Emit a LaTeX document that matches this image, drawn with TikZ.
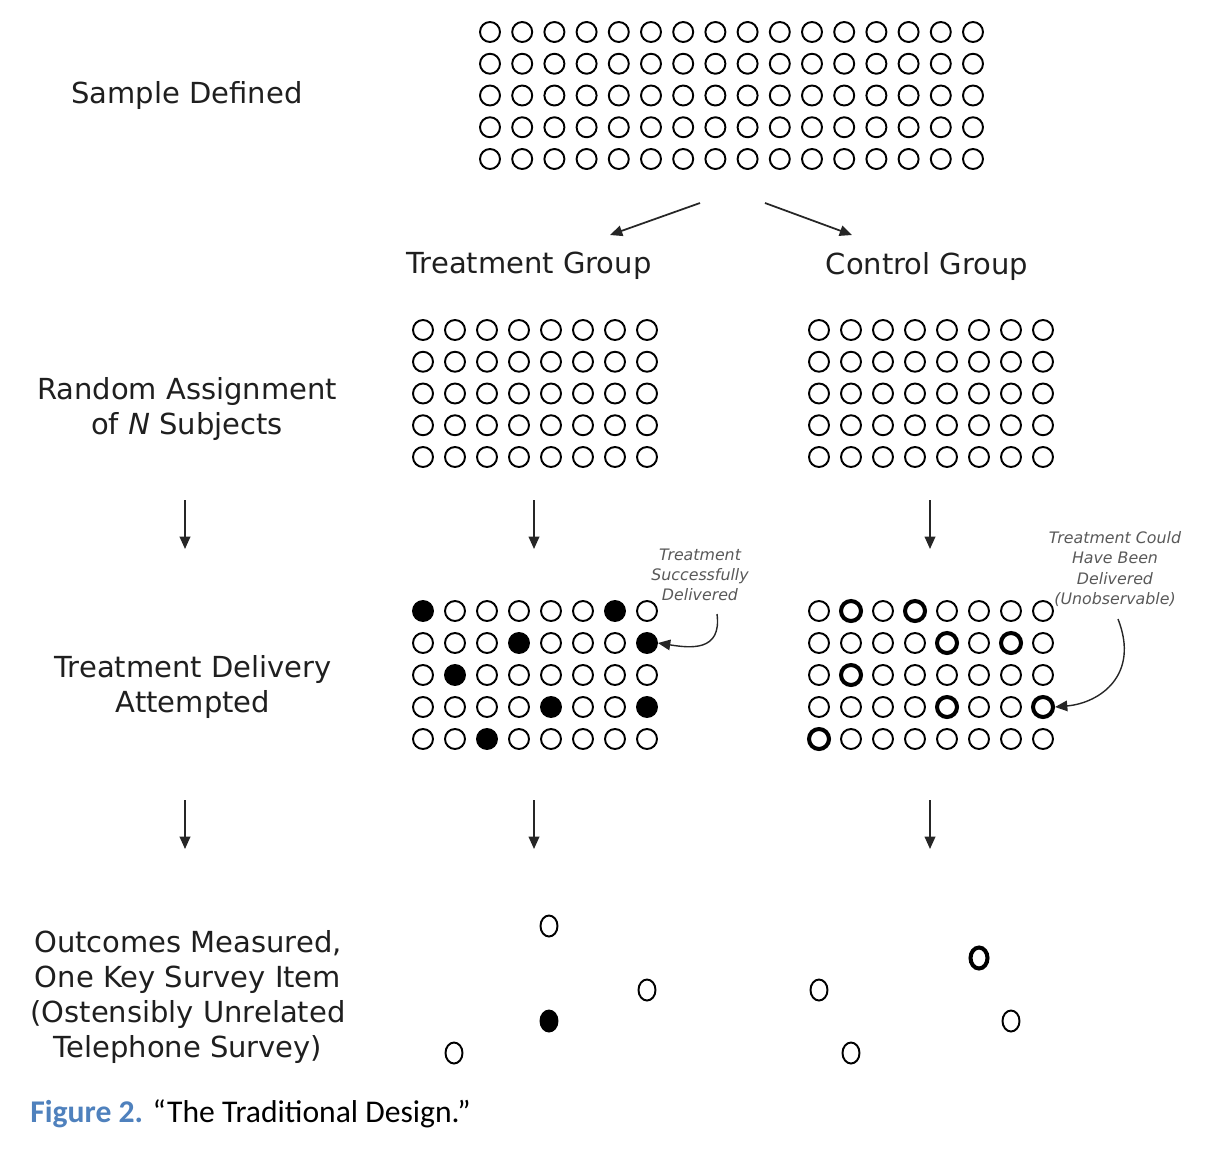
\documentclass[tikz,border=0pt]{standalone}
\usepackage{fontspec}
\setmainfont{DejaVu Sans}
\newfontfamily\capfont{Carlito}
\usetikzlibrary{arrows.meta, positioning, shapes.geometric, calc}
\definecolor{figblue}{HTML}{4F81BD}

\begin{document}
\begin{tikzpicture}[
    x=0.02cm, y=-0.02cm,
    dot/.style={draw, circle, line width=1.1pt, minimum size=0.4cm, inner sep=0pt},
    hit/.style={dot, fill=black},
    bold/.style={dot, line width=2.3pt},
    td0/.style={dot}, td1/.style={hit},
    cd0/.style={dot}, cd1/.style={bold},
    odot/.style={draw, ellipse, line width=1.1pt, minimum width=0.34cm, minimum height=0.42cm, inner sep=0pt},
    lbl/.style={font=\fontsize{16.5}{20}\selectfont, align=center, text=black!88},
    note/.style={font=\fontsize{9}{11.5}\selectfont\itshape, align=center, text=black!65},
    arr/.style={-{Triangle[length=7pt, width=6pt]}, line width=1pt, black!85}
]
\path[use as bounding box] (0,0) rectangle (1213,1170);

% row labels
\node[lbl] (sample) at (187,95) {Sample Defined};
\node[lbl] (assign) at (187,409) {Random Assignment\\of \emph{N} Subjects};
\node[lbl] (deliver) at (193,687) {Treatment Delivery\\Attempted};
\node[lbl] (outcome) at (188,997) {Outcomes Measured,\\One Key Survey Item\\(Ostensibly Unrelated\\Telephone Survey)};
\node[lbl] (tgroup) at (529,266) {Treatment Group};
\node[lbl] (cgroup) at (927,266) {Control Group};

% sample
\foreach \r in {1,...,5}
  \foreach \c in {1,...,16}
    \node[dot] (s-\r-\c) at ({490+32.2*(\c-1)}, {32+31.75*(\r-1)}) {};

% assigned groups
\foreach \r in {1,...,5}
  \foreach \c in {1,...,8} {
    \node[dot] (t-\r-\c) at ({423+32*(\c-1)}, {330+31.75*(\r-1)}) {};
    \node[dot] (c-\r-\c) at ({819+32*(\c-1)}, {330+31.75*(\r-1)}) {};
  }

% delivery attempted
\foreach \r/\pat in {1/{1,0,0,0,0,0,1,0}, 2/{0,0,0,1,0,0,0,1}, 3/{0,1,0,0,0,0,0,0},
                     4/{0,0,0,0,1,0,0,1}, 5/{0,0,1,0,0,0,0,0}}
  \foreach \k [count=\c] in \pat
    \node[td\k] (td-\r-\c) at ({423+32*(\c-1)}, {611+32*(\r-1)}) {};
\foreach \r/\pat in {1/{0,1,0,1,0,0,0,0}, 2/{0,0,0,0,1,0,1,0}, 3/{0,1,0,0,0,0,0,0},
                     4/{0,0,0,0,1,0,0,1}, 5/{1,0,0,0,0,0,0,0}}
  \foreach \k [count=\c] in \pat
    \node[cd\k] (cd-\r-\c) at ({819+32*(\c-1)}, {611+32*(\r-1)}) {};

% outcomes
\node[odot] (to1) at (549,926) {};
\node[odot] (to2) at (647,990) {};
\node[odot, fill=black] (to3) at (549,1021) {};
\node[odot] (to4) at (454,1053) {};
\node[odot, line width=2.3pt] (co1) at (979,958) {};
\node[odot] (co2) at (819,990) {};
\node[odot] (co3) at (1011,1021) {};
\node[odot] (co4) at (851,1053) {};

% notes
\node[note] (tnote) at (700,575) {Treatment\\Successfully\\Delivered};
\node[note] (cnote) at (1115,569) {Treatment Could\\Have Been\\Delivered\\(Unobservable)};

% arrow ends
\coordinate (splitL) at (700,203);
\coordinate (splitR) at (765,203);
\coordinate (tin) at (610,235);
\coordinate (cin) at (852,235);
\foreach \n/\x in {a/185, b/534, c/930} {
  \coordinate (\n1) at (\x,500);
  \coordinate (\n2) at (\x,549);
  \coordinate (\n3) at (\x,800);
  \coordinate (\n4) at (\x,849);
}
\coordinate (tnoteend) at (717,614);
\coordinate (cnoteend) at (1118,619);

\draw[arr] (splitL) -- (tin);
\draw[arr] (splitR) -- (cin);
\foreach \n in {a,b,c} {
  \draw[arr] (\n1) -- (\n2);
  \draw[arr] (\n3) -- (\n4);
}
\draw[arr, line width=0.8pt] (tnoteend) .. controls (722,652) and (690,648) .. (td-2-8.east);
\draw[arr, line width=0.8pt] (cnoteend) .. controls (1140,675) and (1100,703) .. (cd-4-8.east);

% caption
\node[anchor=base west, inner sep=0pt, font=\capfont\fontsize{18}{21}\selectfont] (caption) at (30,1122)
  {\textcolor{figblue}{\textbf{Figure 2.}} “The Traditional Design.”};
\end{tikzpicture}
\end{document}
